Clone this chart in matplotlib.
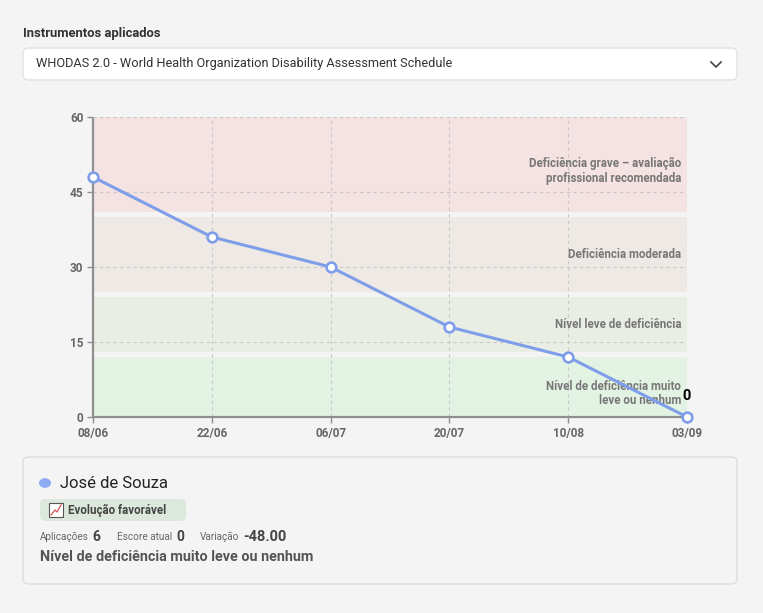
import numpy as np
import matplotlib.pyplot as plt
from matplotlib.patches import FancyBboxPatch, Circle, Rectangle
from matplotlib.lines import Line2D

plt.rcParams['font.family'] = ['Roboto', 'DejaVu Sans']

# data
dates = ['08/06', '22/06', '06/07', '20/07', '10/08', '03/09']
scores = [48, 36, 30, 18, 12, 0]
y_ticks = [0, 15, 30, 45, 60]
band_ranges = [(41, 60), (25, 40), (13, 24), (0, 12)]
band_colors = ['#f5e2e2', '#eee9e4', '#e9eee4', '#e2f3e4']
band_labels = ['Deficiência grave – avaliação\nprofissional recomendada',
               'Deficiência moderada',
               'Nível leve de deficiência',
               'Nível de deficiência muito\nleve ou nenhum']
band_label_y = [49.3, 32.6, 18.6, 4.7]

W, H = 763, 613
bg = '#f4f4f4'
fig = plt.figure(figsize=(W/100, H/100), dpi=100, facecolor=bg)

def fx(x):
    return x/W
def fy(y):
    return 1 - y/H

# plot area in pixels
L, R, T, B = 93, 687, 117, 417
ax = fig.add_axes([fx(L), fy(B), (R-L)/W, (B-T)/H])
ax.set_facecolor(bg)
x = np.arange(len(dates))

for (lo, hi), c in zip(band_ranges, band_colors):
    ax.axhspan(lo, hi, color=c, lw=0, zorder=0)

ax.set_xlim(0, len(dates)-1)
ax.set_ylim(0, 60)
ax.set_xticks(x)
ax.set_xticklabels(dates)
ax.set_yticks(y_ticks)
ax.grid(True, color='#c8c8c8', ls=(0, (3, 3)), lw=0.8, zorder=1)
ax.set_axisbelow(True)
for s in ['top', 'right']:
    ax.spines[s].set_visible(False)
for s in ['left', 'bottom']:
    ax.spines[s].set_color('#8f8f8f')
    ax.spines[s].set_linewidth(1.6)
    ax.spines[s].set_linestyle((0, (2, 1)))
ax.tick_params(axis='both', colors='#8f8f8f', length=4, width=1,
               labelcolor='#666666', labelsize=8.5, pad=3)
for lab in ax.get_xticklabels() + ax.get_yticklabels():
    lab.set_fontweight('bold')

for lab, yy in zip(band_labels, band_label_y):
    ax.text(4.95, yy, lab, ha='right', va='center', fontsize=8.3,
            fontweight='bold', color='#777777', linespacing=1.2, zorder=3)

ax.plot(x, scores, color='#7f9ee9', lw=2.2, marker='o', markersize=7,
        markerfacecolor='white', markeredgecolor='#7f9ee9', markeredgewidth=1.9,
        zorder=5, clip_on=False)
ax.annotate(str(scores[-1]), (x[-1], scores[-1]), xytext=(0, 10),
            textcoords='offset points', ha='center', va='bottom',
            fontsize=10.5, fontweight='bold', color='black')

# header and dropdown
fig.text(fx(23), fy(34), 'Instrumentos aplicados', fontsize=9.4,
         fontweight='bold', color='#333333', va='center')
fig.patches.append(FancyBboxPatch((fx(23), fy(80)), fx(714), (80-48)/H,
                                  boxstyle='round,pad=0,rounding_size=0.008',
                                  transform=fig.transFigure, facecolor='white',
                                  edgecolor='#e2e2e2', lw=1))
fig.text(fx(36), fy(64), 'WHODAS 2.0 - World Health Organization Disability Assessment Schedule',
         fontsize=9.2, color='#333333', va='center')
fig.lines.append(Line2D([fx(711), fx(716), fx(721)], [fy(62), fy(67), fy(62)],
                        transform=fig.transFigure, color='#444444', lw=1.2))

# card
fig.patches.append(FancyBboxPatch((fx(23), fy(584)), fx(714), (584-457)/H,
                                  boxstyle='round,pad=0,rounding_size=0.008',
                                  transform=fig.transFigure, facecolor=bg,
                                  edgecolor='#dddddd', lw=1))
fig.patches.append(Circle((fx(45), fy(483)), 6/W, transform=fig.transFigure,
                          facecolor='#8eaaf0', edgecolor='none'))
fig.text(fx(60), fy(483), 'José de Souza', fontsize=12, color='#222222', va='center')
fig.patches.append(FancyBboxPatch((fx(40), fy(521)), fx(146), 22/H,
                                  boxstyle='round,pad=0,rounding_size=0.008',
                                  transform=fig.transFigure, facecolor='#dde8dd',
                                  edgecolor='none'))
# small chart icon
fig.patches.append(Rectangle((fx(49), fy(517)), fx(14), 14/H, transform=fig.transFigure,
                             facecolor='white', edgecolor='#555555', lw=0.8))
fig.lines.append(Line2D([fx(51), fx(55), fx(57), fx(61)], [fy(515), fy(510), fy(512), fy(505)],
                        transform=fig.transFigure, color='#d9534f', lw=0.9))
fig.text(fx(68), fy(510), 'Evolução favorável', fontsize=8.3, fontweight='bold',
         color='#444444', va='center')

fig.text(fx(40), fy(537), 'Aplicações', fontsize=7.2, color='#666666', va='center')
fig.text(fx(92), fy(537), '6', fontsize=10, fontweight='bold', color='#444444', va='center')
fig.text(fx(117), fy(537), 'Escore atual', fontsize=7.2, color='#666666', va='center')
fig.text(fx(176), fy(537), '0', fontsize=10, fontweight='bold', color='#444444', va='center')
fig.text(fx(200), fy(537), 'Variação', fontsize=7.2, color='#666666', va='center')
fig.text(fx(243), fy(537), '-48.00', fontsize=10.5, fontweight='bold', color='#444444', va='center')
fig.text(fx(40), fy(557), 'Nível de deficiência muito leve ou nenhum', fontsize=10.4,
         fontweight='bold', color='#555555', va='center')

fig.savefig('out.png', dpi=100, facecolor=bg)
